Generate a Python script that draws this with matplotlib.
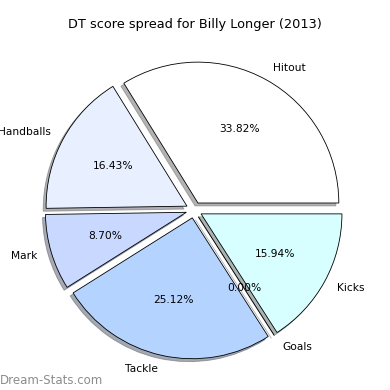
import matplotlib
matplotlib.use('Agg')
import matplotlib.pyplot as plt

# Values
labels = ['Hitout', 'Handballs', 'Mark', 'Tackle', 'Goals', 'Kicks']
shares = [33.82, 16.43, 8.70, 25.12, 0.0, 15.94]
colors = ['#ffffff', '#e8f0ff', '#c8d8ff', '#b4d4ff', '#e0f0ff', '#d8ffff']
explode = [0.057, 0.057, 0.057, 0.057, 0.057, 0.057]

fig = plt.figure(figsize=(3.9, 3.9), dpi=100)
ax = fig.add_axes([0.046, 0.01, 0.903, 0.903])

wedges, texts, autotexts = ax.pie(shares, labels=labels, colors=colors, explode=explode,
                                  autopct='%1.2f%%', startangle=0,
                                  shadow={'ox': -0.015, 'oy': -0.015, 'shade': 0.6},
                                  wedgeprops={'edgecolor': 'black', 'linewidth': 0.6},
                                  textprops={'fontsize': 7.7})
ax.set_aspect('equal')

fig.text(0.5, 0.936, 'DT score spread for Billy Longer (2013)', fontsize=9.3,
         ha='center', va='center')
fig.text(0.0, 0.025, 'Dream-Stats.com', fontsize=8.5, color='#8c8c8c', va='center')

plt.savefig('out.png', dpi=100)
